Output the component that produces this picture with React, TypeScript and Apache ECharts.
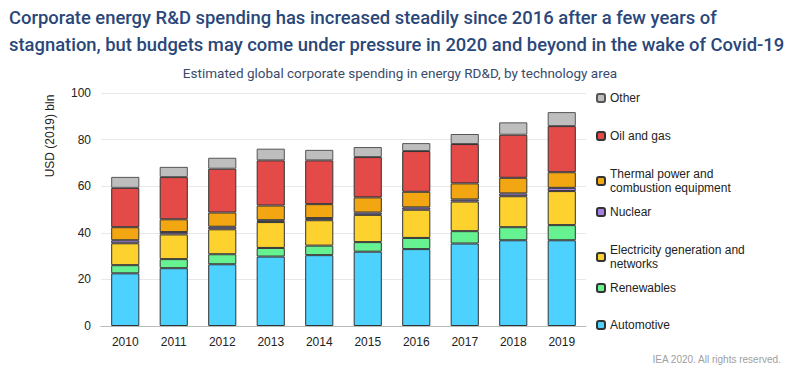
import React, { useEffect, useRef } from "react";
import * as echarts from "echarts";

const years = ["2010", "2011", "2012", "2013", "2014", "2015", "2016", "2017", "2018", "2019"];
const automotive = [22.6, 24.8, 26.5, 29.8, 30.4, 31.9, 33.0, 35.4, 36.8, 36.8];
const renewables = [3.5, 3.9, 4.3, 3.7, 4.1, 4.1, 4.8, 5.3, 5.6, 6.5];
const electricity = [9.4, 10.6, 10.7, 11.1, 10.9, 11.7, 12.1, 12.7, 13.3, 14.6];
const nuclear = [1.3, 1.0, 1.1, 0.8, 0.9, 1.0, 1.0, 0.9, 1.2, 1.4];
const thermal = [5.6, 5.5, 6.1, 6.3, 6.0, 6.5, 6.7, 6.9, 6.7, 6.7];
const oilGas = [16.9, 18.1, 18.8, 19.4, 18.8, 17.3, 17.5, 16.9, 18.5, 19.8];
const other = [4.7, 4.4, 4.7, 5.0, 4.5, 4.3, 3.4, 4.3, 5.3, 6.0];
const yTicks = [0, 20, 40, 60, 80, 100];

const seriesNames = [
  "Automotive",
  "Renewables",
  "Electricity generation and networks",
  "Nuclear",
  "Thermal power and combustion equipment",
  "Oil and gas",
  "Other",
];
const seriesData = [automotive, renewables, electricity, nuclear, thermal, oilGas, other];
const colors = ["#4DD2FF", "#66F291", "#FDD22E", "#A57FE3", "#F2A612", "#E34A48", "#BEBEBE"];
const legendLabels: Record<string, string> = {
  "Automotive": "Automotive",
  "Renewables": "Renewables",
  "Electricity generation and networks": "Electricity generation and\nnetworks",
  "Nuclear": "Nuclear",
  "Thermal power and combustion equipment": "Thermal power and\ncombustion equipment",
  "Oil and gas": "Oil and gas",
  "Other": "Other",
};

export default function App() {
  const ref = useRef<HTMLDivElement>(null);
  useEffect(() => {
    if (!ref.current) return;
    const chart = echarts.init(ref.current, null, { renderer: "svg" });
    const legendOrder = [...seriesNames].reverse();
    const legendFirstLineY = [98, 136, 174, 212, 250, 288, 325];
    const legends = legendOrder.map((name, i) => ({
      data: [name],
      orient: "vertical",
      left: 596,
      top: legendFirstLineY[i] - 7,
      itemWidth: 8,
      itemHeight: 8,
      padding: 0,
      selectedMode: false,
      formatter: (n: string) => legendLabels[n],
      textStyle: {
        fontFamily: "Liberation Sans, Arial, sans-serif",
        fontSize: 12,
        color: "#222",
        lineHeight: 14,
      },
    }));
    chart.setOption({
      animation: false,
      backgroundColor: "#ffffff",
      title: [
        {
          text: "Corporate energy R&D spending has increased steadily since 2016 after a few years of\nstagnation, but budgets may come under pressure in 2020 and beyond in the wake of Covid-19",
          left: 9,
          top: 4,
          padding: 0,
          textStyle: {
            fontFamily: "Roboto, sans-serif",
            fontSize: 18.4,
            fontWeight: 500,
            color: "#2A4779",
            lineHeight: 27,
          },
        },
        {
          text: "Estimated global corporate spending in energy RD&D, by technology area",
          left: "center",
          top: 66,
          padding: 0,
          textStyle: {
            fontFamily: "Roboto, sans-serif",
            fontSize: 13.5,
            fontWeight: "normal",
            color: "#3A4A6B",
          },
        },
      ],
      legend: legends,
      grid: { left: 101, right: 214, top: 93, bottom: 43, containLabel: false },
      xAxis: {
        type: "category",
        data: years,
        axisTick: { show: false },
        axisLine: { lineStyle: { color: "#BBBBBB", width: 1 } },
        axisLabel: {
          fontFamily: "Liberation Sans, Arial, sans-serif",
          fontSize: 12,
          color: "#222",
          margin: 10,
        },
      },
      yAxis: {
        type: "value",
        min: yTicks[0],
        max: yTicks[yTicks.length - 1],
        interval: 20,
        axisLine: { show: false },
        axisTick: { show: false },
        splitLine: { lineStyle: { color: "#E8E8E8", width: 1 } },
        axisLabel: {
          fontFamily: "Liberation Sans, Arial, sans-serif",
          fontSize: 12,
          color: "#222",
          margin: 10,
        },
      },
      graphic: [
        {
          type: "text",
          x: 50,
          y: 136,
          rotation: Math.PI / 2,
          style: {
            text: "USD (2019) bln",
            fontFamily: "Liberation Sans, Arial, sans-serif",
            fontSize: 12,
            fill: "#222",
            textAlign: "center",
            textVerticalAlign: "middle",
          },
        },
        {
          type: "text",
          right: 18,
          top: 354,
          style: {
            text: "IEA 2020. All rights reserved.",
            fontFamily: "Liberation Sans, Arial, sans-serif",
            fontSize: 10,
            fill: "#A0A0A0",
          },
        },
      ],
      series: seriesNames.map((name, i) => ({
        name,
        type: "bar",
        stack: "total",
        barWidth: "58%",
        data: seriesData[i],
        itemStyle: {
          color: colors[i],
          borderColor: name === "Other" ? "#555555" : "#333333",
          borderWidth: 1,
        },
      })),
    });
    return () => chart.dispose();
  }, []);
  return <div ref={ref} style={{ width: 800, height: 369, position: "absolute", left: 0, top: 0 }} />;
}
